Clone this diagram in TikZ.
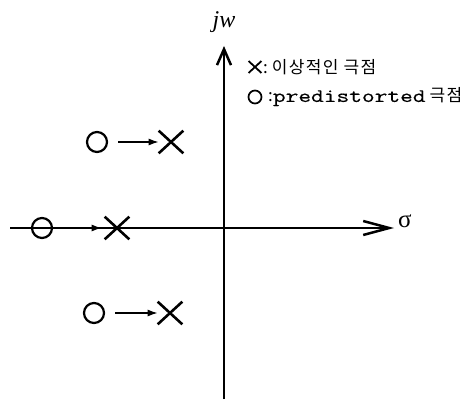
\documentclass[tikz,border=0pt]{standalone}
\usepackage{fontspec}
\setmainfont{Liberation Serif}
\newfontfamily\kr[LetterSpace=8]{Noto Sans CJK KR}
\newfontfamily\mono[FakeStretch=1.3,FakeBold=0.6]{Latin Modern Mono}
\usetikzlibrary{arrows.meta,shapes.misc}
\begin{document}
\begin{tikzpicture}[x=1pt,y=-1pt,
  axis/.style={line width=2.5pt},
  pole/.style={cross out,draw,line width=2.6pt,inner sep=0pt,minimum width=22pt,minimum height=20pt},
  prepole/.style={circle,draw,line width=2.2pt,inner sep=0pt,minimum size=20pt},
  move/.style={line width=1.5pt,-{Latex[length=10pt,width=7pt]}},
  lbl/.style={inner sep=0pt,anchor=west},
  krtext/.style={font=\kr\fontsize{17}{17}\selectfont}]
\useasboundingbox (0,0) rectangle (462,401);
% axes
\coordinate (ybot) at (224,399);
\coordinate (ytop) at (224,46);
\coordinate (xl) at (10,228);
\coordinate (xr) at (394,228);
\draw[axis,-{Straight Barb[length=16pt,width=14pt]}] (ybot) -- (ytop);
\draw[axis,-{Straight Barb[length=26pt,width=14pt]}] (xl) -- (xr);
\node (jw) at (224,22) {\fontsize{24}{24}\selectfont\itshape jw};
\node[lbl] (sig) at (398,221) {\fontsize{25}{25}\selectfont σ};
% legend
\node[pole,minimum width=11pt,minimum height=10pt,line width=1.8pt] (lx) at (255,67) {};
\node[prepole,minimum size=13pt,line width=1.7pt] (lo) at (255,97) {};
\node[lbl,krtext] (t1) at (263,67) {:\hspace{4pt}이상적인 극점};
\node[lbl,krtext] (t2) at (268,97) {:{\mono\fontsize{19}{19}\selectfont predistorted}\hspace{4pt}극점};
% poles
\node[prepole] (o1) at (97,142) {};
\node[pole] (x1) at (171,142) {};
\node[prepole] (o0) at (42,228) {};
\node[pole] (x0) at (117,228) {};
\node[prepole] (o2) at (94,313) {};
\node[pole] (x2) at (170,313) {};
\draw[move] ([xshift=10pt]o1.east) -- (x1.west);
\draw[move,shorten >=3pt] (o0.east) -- (x0.west);
\draw[move] ([xshift=10pt]o2.east) -- (x2.west);
\end{tikzpicture}
\end{document}
